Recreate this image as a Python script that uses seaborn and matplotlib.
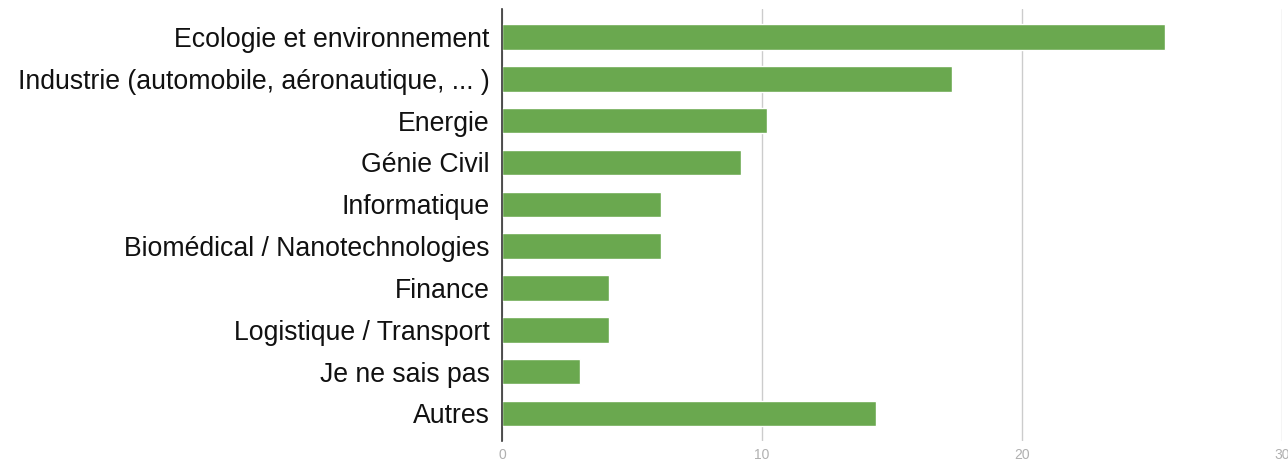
import matplotlib

matplotlib.use("Agg")

import matplotlib.pyplot as plt
import pandas as pd
import seaborn as sns

categories = [
    "Ecologie et environnement",
    "Industrie (automobile, aéronautique, ... )",
    "Energie",
    "Génie Civil",
    "Informatique",
    "Biomédical / Nanotechnologies",
    "Finance",
    "Logistique / Transport",
    "Je ne sais pas",
    "Autres",
]
values = [25.5, 17.3, 10.2, 9.2, 6.1, 6.1, 4.1, 4.1, 3.0, 14.4]
x_ticks = [0, 10, 20, 30]

df = pd.DataFrame({"category": categories, "value": values})

sns.set_style("white")
plt.rcParams["font.family"] = ["Liberation Sans", "DejaVu Sans"]

fig = plt.figure(figsize=(12.88, 4.63), dpi=100)
ax = fig.add_axes([0.3898, 0.0475, 0.6055, 0.9331])

sns.barplot(data=df, x="value", y="category", color="#6aa84f", saturation=1,
            width=0.61, ax=ax, zorder=3)

ax.set_xlim(0, 30)
ax.set_ylim(9.66, -0.67)
ax.set_xticks(x_ticks)
ax.set_xticklabels([str(t) for t in x_ticks], color="#b0b0b0", fontsize=10)
ax.tick_params(axis="x", length=0, pad=5)
ax.tick_params(axis="y", length=0, pad=9, labelsize=19.2, labelcolor="#111111")
ax.grid(axis="x", color="#cccccc", linewidth=1, zorder=0)
ax.set_xlabel("")
ax.set_ylabel("")
for side in ["top", "right", "bottom"]:
    ax.spines[side].set_visible(False)
ax.spines["left"].set_color("#333333")
ax.spines["left"].set_linewidth(1.2)
ax.spines["left"].set_zorder(4)

fig.savefig("out.png", dpi=100)
